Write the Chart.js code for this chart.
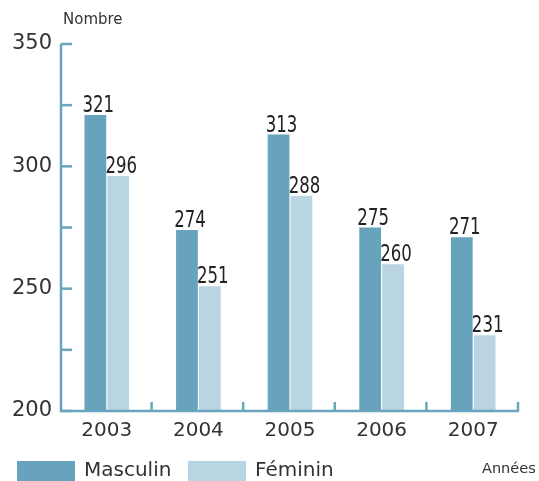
<!DOCTYPE html>
<html>
<head>
<meta charset="utf-8">
<script src="https://cdn.jsdelivr.net/npm/chart.js@4"></script>
<style>
  html, body { margin: 0; padding: 0; background: #fff; }
  #wrap { position: relative; width: 539px; height: 481px; }
</style>
</head>
<body>
<div id="wrap"><canvas id="chart" width="539" height="481"></canvas></div>
<script>
// Données
const annees = ['2003', '2004', '2005', '2006', '2007'];
const masculin = [321, 274, 313, 275, 271];
const feminin = [296, 251, 288, 260, 231];
const yTicks = [200, 250, 300, 350];

const axisColor = '#6aa5be';
const darkBlue = '#67a3bd';
const lightBlue = '#b9d4e2';
const condFont = '"DejaVu Sans Condensed", "DejaVu Sans", sans-serif';
const textFont = '"DejaVu Sans", sans-serif';

// Petits traits d'axes + étiquettes des barres + titres + légende
const decorPlugin = {
    id: 'decor',
    afterDraw(chart) {
        const { ctx, chartArea, scales } = chart;
        const x = scales.x, y = scales.y;
        ctx.save();
        ctx.strokeStyle = axisColor;
        ctx.lineWidth = 2.5;
        // axes
        ctx.beginPath();
        ctx.moveTo(chartArea.left, y.getPixelForValue(350));
        ctx.lineTo(chartArea.left, chartArea.bottom);
        ctx.lineTo(chartArea.right, chartArea.bottom);
        ctx.stroke();
        // ticks y (vers l'intérieur)
        y.ticks.forEach(t => {
            const py = y.getPixelForValue(t.value);
            ctx.beginPath();
            ctx.moveTo(chartArea.left, py);
            ctx.lineTo(chartArea.left + 11, py);
            ctx.stroke();
        });
        // ticks x aux limites des catégories
        const step = (chartArea.right - chartArea.left) / annees.length;
        for (let i = 1; i <= annees.length; i++) {
            const px = chartArea.left + step * i - 1;
            ctx.beginPath();
            ctx.moveTo(px, chartArea.bottom);
            ctx.lineTo(px, chartArea.bottom - 9);
            ctx.stroke();
        }
        // valeurs au-dessus des barres (police étroite)
        ctx.fillStyle = '#222';
        ctx.font = '23px ' + condFont;
        ctx.textAlign = 'center';
        ctx.textBaseline = 'alphabetic';
        chart.data.datasets.forEach((ds, di) => {
            chart.getDatasetMeta(di).data.forEach((bar, i) => {
                ctx.save();
                ctx.translate(bar.x + 3, bar.y - 3);
                ctx.scale(0.8, 1);
                ctx.fillText(String(ds.data[i]), 0, 0);
                ctx.restore();
            });
        });
        // titres d'axes
        ctx.fillStyle = '#333';
        ctx.font = '15px ' + textFont;
        ctx.textAlign = 'left';
        ctx.textBaseline = 'middle';
        ctx.fillText('Nombre', 63, 20);
        ctx.font = '14.5px ' + textFont;
        ctx.fillText('Années', 482, 469);
        // légende
        const legendX = [17, 188];
        ctx.font = '20px ' + textFont;
        chart.data.datasets.forEach((ds, di) => {
            ctx.fillStyle = ds.backgroundColor;
            ctx.fillRect(legendX[di], 461, 58, 22);
            ctx.fillStyle = '#333';
            ctx.fillText(ds.label, legendX[di] + 67, 471);
        });
        ctx.restore();
    }
};

new Chart(document.getElementById('chart'), {
    type: 'bar',
    data: {
        labels: annees,
        datasets: [
            { label: 'Masculin', data: masculin, backgroundColor: darkBlue },
            { label: 'Féminin', data: feminin, backgroundColor: lightBlue }
        ]
    },
    options: {
        responsive: false,
        animation: false,
        layout: { padding: { top: 44, right: 20, left: 0, bottom: 0 } },
        datasets: { bar: { categoryPercentage: 0.5, barPercentage: 0.95 } },
        plugins: {
            tooltip: { enabled: false },
            legend: { display: false }
        },
        scales: {
            x: {
                afterFit(scale) { scale.height = 70; },
                grid: { display: false },
                border: { display: false },
                ticks: { color: '#333', font: { size: 20, family: textFont }, padding: 0 }
            },
            y: {
                min: 200,
                max: 350,
                afterBuildTicks(scale) {
                    scale.ticks = [200, 225, 250, 275, 300, 325, 350].map(v => ({ value: v }));
                },
                afterFit(scale) { scale.width = 61; },
                grid: { display: false },
                border: { display: false },
                ticks: {
                    color: '#333',
                    font: { size: 21, family: textFont },
                    padding: 1,
                    callback: v => yTicks.includes(v) ? String(v) : ''
                }
            }
        }
    },
    plugins: [decorPlugin]
});
</script>
</body>
</html>
